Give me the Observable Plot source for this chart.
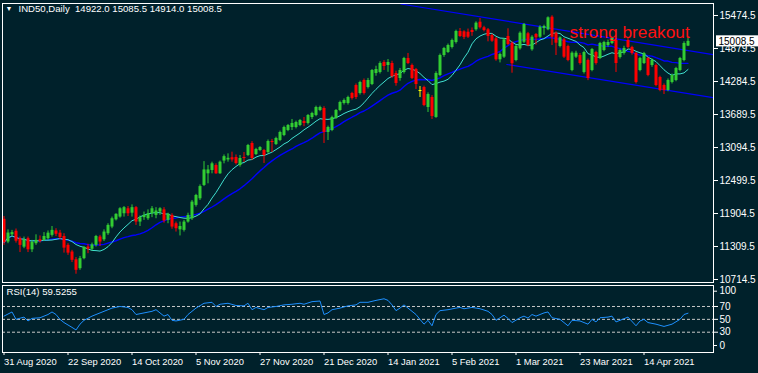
<!DOCTYPE html>
<html><head><meta charset="utf-8">
<script src="https://cdn.jsdelivr.net/npm/d3@7"></script>
<script src="https://cdn.jsdelivr.net/npm/@observablehq/plot@0.6"></script>
<style>
html,body{margin:0;padding:0;background:#00212b;}
#chart{position:relative;width:758px;height:373px;background:#00212b;overflow:hidden;}
#chart svg{position:absolute;left:0;}
</style></head><body><div id="chart"></div>
<script>
const symbolLabel = "IND50,Daily";
const openPrices = [11800,11390,11520,11585,11450,11298,11450,11250,11360,11430,
 11420,11450,11510,11590,11550,11490,11330,11210,11070,10910,
 11090,11300,11260,11330,11480,11430,11540,11660,11790,11840,
 11900,11990,11910,12010,11750,11830,11810,11900,11870,11930,
 11970,11780,11870,11720,11610,11600,11750,11810,12050,12170,
 12410,12620,12680,12770,12620,12850,12870,12910,12914,12770,
 12914,12950,13167,12968,13040,13040,13004,13203,13149,13221,
 13311,13401,13455,13455,13491,13563,13527,13635,13672,13762,
 13798,13365,13401,13617,13762,13888,13888,14068,14212,14068,
 14303,14176,14230,14429,14447,14627,14573,14609,14429,14339,
 14447,14699,14573,14501,14122,14176,13816,13996,13636,14393,
 14753,14807,14898,14988,15186,15180,15173,15204,15217,15354,
 15253,15217,15114,15054,14676,14723,15096,14975,14663,14874,
 14993,15145,14856,15132,15083,15240,15217,15444,15155,14916,
 15036,14916,14483,14723,14753,14447,14663,14483,14807,14699,
 14843,14934,14970,15024,14717,14789,15024,14898,14789,14483,
 14609,14699,14573,14573,14357,14212,14122,14267,14303,14483,
 14663,14922.0];
const highPrices = [11850,11610,11600,11625,11480,11480,11480,11420,11520,11500,
 11560,11590,11670,11630,11600,11540,11360,11240,11110,11130,
 11310,11350,11370,11510,11510,11610,11720,11840,11900,12010,
 12030,12030,12060,12030,11860,11930,11970,12030,12010,12010,
 12010,11910,11900,11750,11750,11780,11910,12140,12250,12420,
 12840,12770,12830,12800,12850,12960,12980,13010,12960,12950,
 13004,13150,13200,13080,13110,13060,13230,13240,13280,13390,
 13480,13510,13600,13570,13600,13635,13690,13730,13840,13840,
 13830,13480,13660,13780,13930,13970,14020,14090,14240,14290,
 14330,14340,14500,14560,14640,14660,14680,14650,14470,14520,
 14720,14790,14600,14520,14194,14200,14080,14030,14460,14780,
 14900,14960,15050,15210,15240,15200,15230,15250,15360,15420,
 15280,15240,15140,15080,14800,15060,15235,15000,14940,15180,
 15330,15170,15110,15150,15290,15300,15450,15470,15180,15090,
 15060,14940,14820,14830,14790,14830,14690,14880,14830,14990,
 15010,15030,15080,15050,14870,14920,15060,14920,14810,14720,
 14810,14720,14690,14600,14380,14240,14330,14420,14540,14720,
 15000,15085.5];
const lowPrices = [11330,11360,11480,11370,11200,11270,11200,11200,11330,11370,
 11400,11420,11480,11490,11430,11190,11150,11020,10810,10880,
 11070,11180,11230,11300,11310,11400,11510,11630,11770,11820,
 11840,11850,11840,11690,11670,11780,11780,11830,11810,11870,
 11730,11720,11620,11570,11500,11570,11730,11780,12020,12140,
 12390,12440,12620,12610,12610,12800,12830,12830,12780,12740,
 12824,12930,12860,12950,13020,12806,12980,13004,13130,13200,
 13290,13380,13401,13430,13470,13470,13500,13600,13650,13740,
 13167,13221,13380,13600,13740,13860,13860,13950,13960,14040,
 14040,14150,14210,14380,14420,14483,14450,14340,14200,14290,
 14420,14590,14320,14140,13996,13830,13726,13600,13620,14370,
 14720,14790,14870,14960,15080,15040,15060,15100,15190,15230,
 15180,15000,14990,14650,14620,14700,14930,14434,14640,14850,
 14970,14910,14830,14940,15060,15120,15200,14934,14753,14890,
 14700,14640,14460,14700,14580,14420,14300,14460,14580,14680,
 14820,14900,14950,14447,14690,14760,14870,14760,14240,14460,
 14590,14370,14540,14190,14100,14050,14100,14240,14280,14460,
 14640,14914.0];
const closePrices = [11380,11552,11560,11405,11330,11432,11250,11390,11420,11400,
 11490,11550,11600,11530,11470,11280,11190,11060,10880,11090,
 11290,11260,11340,11490,11390,11570,11690,11810,11890,11990,
 12010,11900,12010,11750,11830,11870,11900,11990,11950,11990,
 11770,11890,11660,11630,11670,11750,11870,12110,12230,12390,
 12690,12690,12800,12620,12830,12930,12900,12870,12806,12896,
 12896,13131,12896,13058,13094,12950,13203,13185,13257,13365,
 13455,13491,13527,13545,13581,13527,13672,13708,13816,13816,
 13365,13455,13635,13762,13906,13942,13996,13978,13996,14267,
 14068,14303,14483,14501,14609,14555,14627,14375,14249,14483,
 14699,14609,14339,14230,14122,13852,14050,13654,14429,14753,
 14880,14934,15024,15186,15096,15080,15083,15168,15336,15253,
 15204,15096,15011,14676,14771,15036,14952,14604,14916,15155,
 15312,14934,15083,15072,15264,15276,15433,15083,14975,15072,
 14723,14663,14795,14795,14609,14807,14339,14861,14609,14970,
 14988,14988,15060,14609,14843,14880,14898,14789,14267,14699,
 14789,14393,14663,14212,14122,14122,14303,14393,14519,14699,
 14970,15008.5];

const dateTickBars = [0,16,32,48,64,80,96,112,128,144,160];
const dateTickLabels = ["31 Aug 2020","22 Sep 2020","14 Oct 2020","5 Nov 2020","27 Nov 2020","21 Dec 2020","14 Jan 2021","5 Feb 2021","1 Mar 2021","23 Mar 2021","14 Apr 2021"];
const priceTicks = [15474.5,14879.5,14284.5,13689.5,13094.5,12499.5,11904.5,11309.5,10714.5];

const rsiBars = [0,2,3,5,6,7,9,11,12,13,14,15,17,18,19,20,22,23,25,27,29,31,32,33,35,37,38,39,40,41,42,43,45,46,48,50,52,53,54,56,58,60,61,62,63,65,66,68,70,72,74,75,77,79,80,81,82,84,86,88,89,91,93,95,96,97,98,99,100,101,103,104,105,106,107,108,109,111,113,114,115,117,119,121,122,123,125,126,127,129,130,131,132,133,135,136,137,139,141,142,144,146,147,148,149,151,152,153,156,158,159,160,161,163,165,167,169,170,171];
const rsiValues = [55,61.5,50,53.5,47.5,51.5,52.5,57.5,61.5,57.5,50,45,37.5,33.5,42.5,48.5,55,57.5,62.5,67.5,70,68.5,65,57.5,60,62.5,65,60,55,57.5,48.5,47.5,50,57.5,67.5,75,76.5,70,73.5,75,71.5,71,75,65,68.5,65,68.5,70,72.5,73.5,75,73.5,77.5,78.5,57.5,60,65,67.5,71,72.5,76.5,76.5,79.5,82,79.5,72.5,63.5,67.5,72.5,67.5,57.5,50,42.5,48.5,40,57.5,63.5,65,67.5,68.5,66.5,68.5,66.5,62.5,57.5,48.5,56.5,51.5,45,52.5,55,52,57.5,55,60,61.5,52.5,50,40,48.5,47.5,42.5,50,46,52.5,53.5,55,46,53.5,40,47.5,50,45,42.5,39,42.5,50,57.5,59.5255];
const rsiLevels = [70,50,30];
const rsiTickValues = [70,50,30];
const rsiLabel = "RSI(14) 59.5255";

const upperTrendBars = [99.2, 177.4], upperTrendPrices = [15682, 14768];
const lowerTrendBars = [125.7, 177.4], lowerTrendPrices = [14591, 13993];
const annotationText = "strong breakout";
const annotationBar = 141.4, annotationPrice = 15170;

// ---- build tables
const candles = openPrices.map((o, i) => {
  const c = closePrices[i];
  return {i, o, h: highPrices[i], l: lowPrices[i], c,
    col: c > o ? "#32cd32" : c < o ? "#ff0000" : "#ffff00"};
});
const dojis = candles.filter(d => d.o === d.c);
const bodies = candles.filter(d => d.o !== d.c);
const last = candles[candles.length - 1];
const rsi = rsiBars.map((b, k) => ({b, v: rsiValues[k]}));
const upperTrend = upperTrendBars.map((b, k) => ({b, p: upperTrendPrices[k]}));
const lowerTrend = lowerTrendBars.map((b, k) => ({b, p: lowerTrendPrices[k]}));
const labelMap = new Map(dateTickBars.map((b, k) => [b, dateTickLabels[k]]));

const FONT = "'Liberation Sans', Arial, sans-serif";
const xDomain = [-0.375, 177.375];
const xRange = [2, 713];
const xEnd = xDomain[1];

const main = Plot.plot({
  width: 758, height: 284,
  marginLeft: 2, marginRight: 45, marginTop: 3, marginBottom: 2,
  style: {background: "transparent", color: "white", fontFamily: FONT, fontSize: "10px", overflow: "visible"},
  x: {domain: xDomain, range: xRange, axis: null},
  y: {domain: [10714.5, 15474.5], range: [279, 15], axis: null},
  marks: [
    Plot.line(upperTrend, {x: "b", y: "p", stroke: "#0000ff", strokeWidth: 1.2, clip: true}),
    Plot.line(lowerTrend, {x: "b", y: "p", stroke: "#0000ff", strokeWidth: 1.2, clip: true}),
    Plot.line(candles, Plot.windowY({k: 20, anchor: "end", reduce: "mean"}, {x: "i", y: "c", stroke: "#0000ff", strokeWidth: 1.4, clip: true})),
    Plot.line(candles, Plot.windowY({k: 10, anchor: "end", reduce: "mean"}, {x: "i", y: "c", stroke: "#40e0d0", strokeWidth: 1, clip: true})),
    Plot.ruleX(candles, {x: "i", y1: "l", y2: "h", stroke: "col", strokeWidth: 1, clip: true}),
    Plot.ruleX(bodies, {x: "i", y1: "o", y2: "c", stroke: "col", strokeWidth: 3, clip: true}),
    Plot.link(dojis, {x1: d => d.i - 0.375, x2: d => d.i + 0.375, y1: "c", y2: "c", stroke: "col", strokeWidth: 1}),
    Plot.frame({stroke: "white", strokeWidth: 1}),
    Plot.axisY(priceTicks, {anchor: "right", label: null, tickSize: 4, tickPadding: 2, tickFormat: d => d.toFixed(1), color: "white", fontSize: 10}),
    Plot.rect([last], {x1: () => xEnd + 0.75, x2: () => xEnd + 11.5, y1: d => d.c + 100, y2: d => d.c - 100, fill: "white"}),
    Plot.text([last], {y: "c", frameAnchor: "right", dx: 5, textAnchor: "start", text: d => d.c.toFixed(1), fill: "black", fontSize: 10}),
    Plot.text([annotationText], {x: () => annotationBar, y: () => annotationPrice, text: d => d, textAnchor: "start", fill: "#ff1010", fontSize: 17.3, fontFamily: FONT}),
    Plot.text(["\u25BC"], {frameAnchor: "top-left", dx: 3, dy: 3, text: d => d, fill: "white", fontSize: 7, lineAnchor: "top"}),
    Plot.text([last], {frameAnchor: "top-left", dx: 16, dy: 2, lineAnchor: "top", fill: "white", fontSize: 9.6,
      text: d => `${symbolLabel}\u00a0\u00a0${d.o.toFixed(1)} ${d.h.toFixed(1)} ${d.l.toFixed(1)} ${d.c.toFixed(1)}`})
  ]
});
main.style.top = "0px";

const rsiPlot = Plot.plot({
  width: 758, height: 89,
  marginLeft: 2, marginRight: 45, marginTop: 1, marginBottom: 21,
  style: {background: "transparent", color: "white", fontFamily: FONT, fontSize: "10px", overflow: "visible"},
  x: {domain: xDomain, range: xRange, axis: null},
  y: {domain: [0, 100], range: [67, 2.7], axis: null},
  marks: [
    Plot.ruleY(rsiLevels, {stroke: "#c8c8c8", strokeDasharray: "3,2", strokeWidth: 1}),
    Plot.line(rsi, {x: "b", y: "v", stroke: "#1e90ff", strokeWidth: 1, clip: true}),
    Plot.frame({stroke: "white", strokeWidth: 1}),
    Plot.axisY(rsiTickValues, {anchor: "right", label: null, tickSize: 4, tickPadding: 2, color: "white", fontSize: 10}),
    Plot.ruleY([100], {x1: () => xEnd, x2: () => xEnd + 1, dy: 4, stroke: "white"}),
    Plot.ruleY([0], {x1: () => xEnd, x2: () => xEnd + 1, dy: -6, stroke: "white"}),
    Plot.text([100], {y: d => d, frameAnchor: "right", dx: 6, dy: 4, textAnchor: "start", text: d => String(d), fill: "white", fontSize: 10}),
    Plot.text([0], {y: d => d, frameAnchor: "right", dx: 6, dy: -6, textAnchor: "start", text: d => String(d), fill: "white", fontSize: 10}),
    Plot.axisX(dateTickBars, {anchor: "bottom", label: null, tickSize: 3, tickPadding: 3, tickFormat: d => labelMap.get(d), textAnchor: "start", dx: 0, color: "white", fontSize: 9.4}),
    Plot.text([rsiLabel], {frameAnchor: "top-left", dx: 4, dy: 3, lineAnchor: "top", text: d => d, fill: "white", fontSize: 9.6})
  ]
});
rsiPlot.style.top = "284px";

const el = document.getElementById("chart");
el.appendChild(main);
el.appendChild(rsiPlot);
</script></body></html>
